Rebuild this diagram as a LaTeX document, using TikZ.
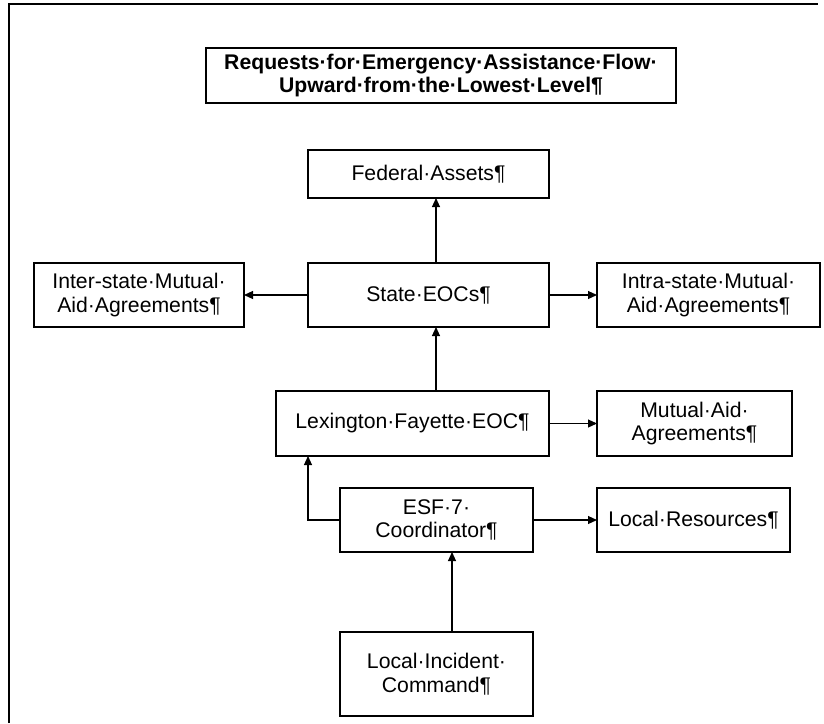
\documentclass[tikz,border=0pt]{standalone}
\usepackage{fontspec}
\setmainfont{Liberation Sans}
\usetikzlibrary{arrows.meta}
\begin{document}
\begin{tikzpicture}[x=1pt,y=-1pt,
  box/.style={draw, line width=1.1pt, inner sep=0pt, outer sep=0pt, align=center,
    font=\fontsize{21.2}{23.5}\selectfont},
  arr/.style={line width=1.1pt, -{Triangle[length=9pt,width=8pt]}},
  frame/.style={line width=1.4pt}]
\useasboundingbox (0,0) rectangle (824,723);
\draw[frame] (9,723) -- (9,4) -- (818,4);
% nodes
\node[box, minimum width=470, minimum height=55, font=\bfseries\fontsize{21.2}{23}\selectfont] (title) at (441,75.5)
  {Requests·for·Emergency·Assistance·Flow·\\Upward·from·the·Lowest·Level¶};
\node[box, minimum width=241, minimum height=48] (fed) at (428.5,174) {Federal·Assets¶};
\node[box, minimum width=241, minimum height=64] (state) at (428.5,295) {State·EOCs¶};
\node[box, minimum width=210, minimum height=64] (inter) at (139,295) {Inter-state·Mutual·\\Aid·Agreements¶};
\node[box, minimum width=223, minimum height=64] (intra) at (708.5,295) {Intra-state·Mutual·\\Aid·Agreements¶};
\node[box, minimum width=273, minimum height=65] (lex) at (412.5,423.5) {Lexington·Fayette·EOC¶};
\node[box, minimum width=195, minimum height=65] (mutual) at (694.5,423.5) {Mutual·Aid·\\Agreements¶};
\node[box, minimum width=193, minimum height=64] (esf) at (436.5,520) {ESF·7·\\Coordinator¶};
\node[box, minimum width=193, minimum height=64] (local) at (693.5,520) {Local·Resources¶};
\node[box, minimum width=193, minimum height=84] (lic) at (436.5,674) {Local·Incident·\\Command¶};
% helper columns
\coordinate (vx) at (436,0);
\coordinate (lx) at (308,0);
\coordinate (cx) at (452,0);
% connectors
\draw[arr] (vx |- state.north) -- (vx |- fed.south);
\draw[arr] (state.west) -- (inter.east);
\draw[arr] (state.east) -- (intra.west);
\draw[arr] (vx |- lex.north) -- (vx |- state.south);
\draw[arr] (lex.east) -- (lex.east -| mutual.west);
\draw[arr] (esf.west) -| (lx |- lex.south);
\draw[arr] (esf.east) -- (local.west);
\draw[arr] (cx |- lic.north) -- (cx |- esf.south);
\end{tikzpicture}
\end{document}
